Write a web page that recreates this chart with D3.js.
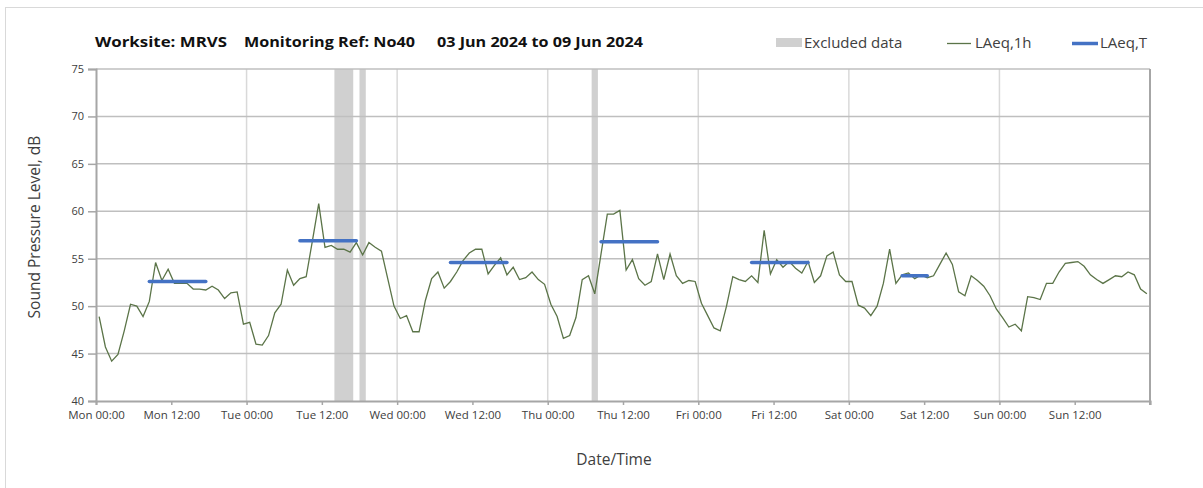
<!DOCTYPE html>
<meta charset='utf-8'>
<div class="chart"></div>
<script src="https://d3js.org/d3.v7.min.js"></script>
<style>
	body { margin: 0; background: #fff; }
	.chart text { font-family: "Open Sans", "Lato", sans-serif; fill: #404040; }
	.title { font-weight: bold; font-size: 14.5px; fill: #111 !important; }
	.legend text { font-size: 15px; }
	.tick-label { font-size: 11.5px; }
	.axis-title { font-size: 15.5px; }
</style>
<script>
	// hourly LAeq,1h values, Mon 00:00 -> Sun 23:00
	var laeq1h = [
		48.9, 45.7, 44.2, 44.9, 47.4, 50.2, 50.0, 48.9, 50.5, 54.6, 52.7, 53.9, 52.4, 52.4, 52.4, 51.8, 51.8, 51.7, 52.1, 51.7, 50.8, 51.4, 51.5, 48.1,
		48.3, 46.0, 45.9, 46.9, 49.3, 50.2, 53.8, 52.2, 52.9, 53.1, 56.9, 60.8, 56.2, 56.4, 56.0, 56.0, 55.7, 56.7, 55.4, 56.7, 56.2, 55.8, 52.9, 50.0,
		48.7, 49.0, 47.3, 47.3, 50.6, 52.9, 53.6, 51.9, 52.6, 53.6, 54.8, 55.6, 56.0, 56.0, 53.4, 54.3, 55.1, 53.3, 54.1, 52.8, 53.0, 53.6, 52.8, 52.3,
		50.2, 48.9, 46.6, 46.9, 48.8, 52.8, 53.2, 51.3, 55.5, 59.7, 59.7, 60.1, 53.8, 54.9, 52.9, 52.2, 52.6, 55.5, 52.8, 55.5, 53.2, 52.4, 52.7, 52.6,
		50.3, 49.0, 47.7, 47.4, 50.0, 53.1, 52.8, 52.6, 53.2, 52.5, 58.0, 53.4, 54.9, 54.1, 54.7, 54.0, 53.5, 54.7, 52.5, 53.2, 55.3, 55.7, 53.3, 52.6,
		52.6, 50.1, 49.8, 49.0, 50.0, 52.4, 56.0, 52.4, 53.3, 53.5, 52.9, 53.3, 53.0, 53.2, 54.4, 55.6, 54.4, 51.5, 51.1, 53.2, 52.7, 52.1, 51.1, 49.7,
		48.8, 47.8, 48.1, 47.4, 51.0, 50.9, 50.7, 52.4, 52.4, 53.6, 54.5, 54.6, 54.7, 54.2, 53.3, 52.8, 52.4, 52.8, 53.2, 53.1, 53.6, 53.3, 51.8, 51.3
	];
	// LAeq,T periods: [first hour, last hour, level]
	var laeqT = [[8, 17, 52.6], [32, 41, 56.9], [56, 65, 54.6], [80, 89, 56.8], [104, 113, 54.6], [128, 132, 53.2]];
	// excluded data: [from hour, to hour]
	var excluded = [[38, 41], [42, 43], [79, 80]];
	var xTickLabels = ["Mon 00:00", "Mon 12:00", "Tue 00:00", "Tue 12:00", "Wed 00:00", "Wed 12:00", "Thu 00:00",
		"Thu 12:00", "Fri 00:00", "Fri 12:00", "Sat 00:00", "Sat 12:00", "Sun 00:00", "Sun 12:00"];
	var yTicks = [40, 45, 50, 55, 60, 65, 70, 75];

	var width = 1203, height = 488;
	var svg = d3.select(".chart").append("svg")
		.attr("width", width)
		.attr("height", height);

	// outer frame
	svg.append("rect")
		.attr("x", 5.5).attr("y", 7.5)
		.attr("width", 1300).attr("height", 600)
		.attr("fill", "none").attr("stroke", "#d9d9d9");

	var x = d3.scaleLinear().domain([0, 168]).range([96, 1150]);
	var y = d3.scaleLinear().domain([40, 75]).range([401, 69]);

	// excluded bands
	svg.append("g").selectAll("rect")
		.data(excluded).enter().append("rect")
		.attr("x", function(d) { return x(d[0]); })
		.attr("width", function(d) { return x(d[1]) - x(d[0]); })
		.attr("y", y(75))
		.attr("height", y(40) - y(75))
		.attr("fill", "#d0d0d0");

	// gridlines
	svg.append("g").selectAll("line")
		.data(d3.range(24, 168, 24)).enter().append("line")
		.attr("x1", function(d) { return x(d); }).attr("x2", function(d) { return x(d); })
		.attr("y1", y(75)).attr("y2", y(40))
		.attr("stroke", "#d9d9d9").attr("stroke-width", 1.5);
	svg.append("g").selectAll("line")
		.data(yTicks.slice(1)).enter().append("line")
		.attr("x1", x(0)).attr("x2", x(168))
		.attr("y1", function(d) { return y(d); }).attr("y2", function(d) { return y(d); })
		.attr("stroke", "#bfbfbf").attr("stroke-width", 1.5);

	// axes
	var yAxis = d3.axisLeft(y).tickValues(yTicks).tickSize(8).tickPadding(4);
	var gy = svg.append("g").attr("transform", "translate(" + x(0) + ",0)").call(yAxis);
	var xAxis = d3.axisBottom(x).tickValues(d3.range(0, 169, 12)).tickSize(4)
		.tickFormat(function(d, i) { return xTickLabels[i] || ""; }).tickPadding(6);
	var gx = svg.append("g").attr("transform", "translate(0," + y(40) + ")").call(xAxis);
	[gx, gy].forEach(function(g) {
		g.select(".domain").attr("stroke", "#a6a6a6").attr("stroke-width", 2);
		g.selectAll(".tick line").attr("stroke", "#a6a6a6").attr("stroke-width", 1.5);
		g.selectAll(".tick text").attr("class", "tick-label").attr("fill", "#404040");
	});
	gy.selectAll(".tick text").style("font-size", "11px");
	svg.append("line")
		.attr("x1", x(168)).attr("x2", x(168))
		.attr("y1", y(75)).attr("y2", y(40) + 4)
		.attr("stroke", "#a6a6a6").attr("stroke-width", 2);

	// LAeq,1h line
	var line = d3.line()
		.x(function(d, i) { return x(i + 0.5); })
		.y(function(d) { return y(d); });
	svg.append("path")
		.datum(laeq1h)
		.attr("d", line)
		.attr("fill", "none")
		.attr("stroke", "#5b7448")
		.attr("stroke-width", 1.3);

	// LAeq,T segments
	svg.append("g").selectAll("line")
		.data(laeqT).enter().append("line")
		.attr("x1", function(d) { return x(d[0] + 0.5); })
		.attr("x2", function(d) { return x(d[1] + 0.5); })
		.attr("y1", function(d) { return y(d[2]); })
		.attr("y2", function(d) { return y(d[2]); })
		.attr("stroke", "#4472c4")
		.attr("stroke-width", 3.5)
		.attr("stroke-linecap", "round");

	// titles (widths fitted to the original layout)
	svg.append("text").attr("class", "title").attr("x", 95).attr("y", 47)
		.attr("textLength", 132).attr("lengthAdjust", "spacingAndGlyphs").text("Worksite: MRVS");
	svg.append("text").attr("class", "title").attr("x", 244).attr("y", 47)
		.attr("textLength", 171).attr("lengthAdjust", "spacingAndGlyphs").text("Monitoring Ref: No40");
	svg.append("text").attr("class", "title").attr("x", 437).attr("y", 47)
		.attr("textLength", 206).attr("lengthAdjust", "spacingAndGlyphs").text("03 Jun 2024 to 09 Jun 2024");

	svg.append("text").attr("class", "axis-title")
		.attr("transform", "translate(40,227) rotate(-90)")
		.attr("text-anchor", "middle")
		.text("Sound Pressure Level, dB");
	svg.append("text").attr("class", "axis-title")
		.attr("x", 614).attr("y", 465)
		.attr("text-anchor", "middle")
		.text("Date/Time");

	// legend
	var legend = svg.append("g").attr("class", "legend");
	legend.append("rect").attr("x", 776).attr("y", 38).attr("width", 26).attr("height", 9).attr("fill", "#d0d0d0");
	legend.append("text").attr("x", 804).attr("y", 48).text("Excluded data");
	legend.append("line").attr("x1", 947).attr("x2", 971).attr("y1", 43.5).attr("y2", 43.5)
		.attr("stroke", "#5b7448").attr("stroke-width", 1.3);
	legend.append("text").attr("x", 975).attr("y", 48).text("LAeq,1h");
	legend.append("line").attr("x1", 1072).attr("x2", 1098).attr("y1", 43.5).attr("y2", 43.5)
		.attr("stroke", "#4472c4").attr("stroke-width", 3.5);
	legend.append("text").attr("x", 1100).attr("y", 48).text("LAeq,T");
</script>
